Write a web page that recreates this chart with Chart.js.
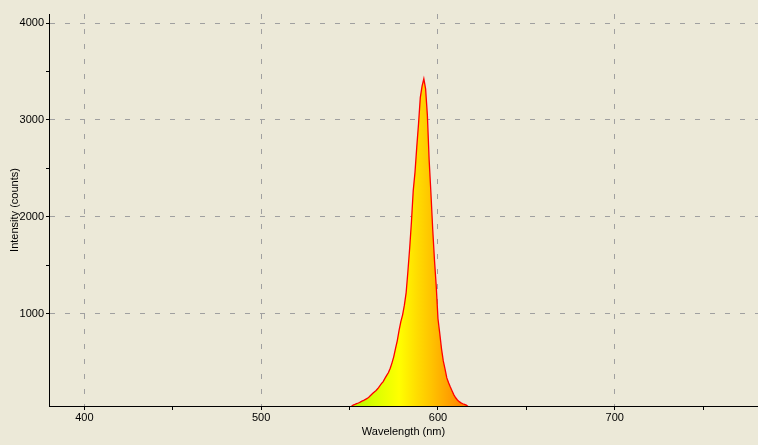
<!DOCTYPE html>
<html>
<head>
<meta charset="utf-8">
<script src="https://cdn.jsdelivr.net/npm/chart.js@4/dist/chart.umd.min.js"></script>
<style>
  html, body { margin: 0; padding: 0; background: #ECE9D8; }
  #wrap { width: 758px; height: 445px; position: relative; }
</style>
</head>
<body>
<div id="wrap"><canvas id="specChart"></canvas></div>
<script>
// spectrum samples (nm / counts)
const wavelengths = [550, 551, 552, 553, 554, 555, 556, 557, 558, 559,
    560, 561, 562, 563, 564, 565, 566, 567, 568, 569,
    570, 571, 572, 573, 574, 575, 576, 577, 578, 579,
    580, 581, 582, 583, 584, 585, 586, 587, 588, 589,
    590, 591, 592, 593, 594, 595, 596, 597, 598, 599,
    600, 601, 602, 603, 604, 605, 606, 607, 608, 609,
    610, 611, 612, 613, 614, 615, 616, 617, 618];
const intensity = [0, 45, 59, 66, 74, 81, 90, 100, 108, 118,
    128, 142, 160, 178, 195, 210, 230, 255, 280, 302,
    335, 365, 395, 440, 495, 560, 645, 725, 830, 920,
    990, 1090, 1220, 1440, 1680, 1950, 2270, 2460, 2720, 2960,
    3230, 3350, 3425, 3320, 3050, 2590, 2250, 1880, 1560, 1290,
    950, 800, 640, 515, 430, 340, 290, 245, 205, 165,
    135, 112, 95, 82, 73, 66, 59, 45, 0];

// axis ticks (labelled ones get a grid line)
const xTicks = [400, 450, 500, 550, 600, 650, 700, 750];
const xLabelled = [400, 500, 600, 700];
const yTicks = [1000, 1500, 2000, 2500, 3000, 3500, 4000];
const yLabelled = [1000, 2000, 3000, 4000];

// fill colours along the wavelength axis
const stopNm = [550, 565, 578, 588, 596, 604, 618];
const stopColors = ["#b4f400", "#dcff00", "#ffff00", "#ffdd00", "#ffc400", "#ffa800", "#ff7800"];

const points = wavelengths.map(function (w, i) { return { x: w, y: intensity[i] }; });

const tickFont = { family: "'Liberation Sans', Arial, sans-serif", size: 11 };

new Chart(document.getElementById("specChart"), {
    type: "line",
    data: {
        datasets: [{
            data: points,
            borderColor: "#ff0000",
            borderWidth: 1.3,
            pointRadius: 0,
            tension: 0,
            fill: "start",
            backgroundColor: function (context) {
                const chart = context.chart;
                if (!chart.chartArea) return "#ffd000";
                const xs = chart.scales.x;
                const x0 = xs.getPixelForValue(stopNm[0]);
                const x1 = xs.getPixelForValue(stopNm[stopNm.length - 1]);
                const g = chart.ctx.createLinearGradient(x0, 0, x1, 0);
                stopNm.forEach(function (nm, i) {
                    g.addColorStop((nm - stopNm[0]) / (stopNm[stopNm.length - 1] - stopNm[0]), stopColors[i]);
                });
                return g;
            }
        }]
    },
    options: {
        responsive: true,
        maintainAspectRatio: false,
        animation: false,
        layout: { padding: { top: 14, right: 0, left: 0, bottom: 0 } },
        plugins: {
            legend: { display: false },
            tooltip: { enabled: false }
        },
        scales: {
            x: {
                type: "linear",
                min: 380,
                max: 781,
                z: 1,
                afterBuildTicks: function (scale) {
                    scale.ticks = xTicks.map(function (v) { return { value: v }; });
                },
                afterFit: function (scale) { scale.height = 39; },
                ticks: {
                    color: "#000",
                    font: tickFont,
                    padding: 1,
                    maxRotation: 0,
                    autoSkip: false,
                    callback: function (v) { return xLabelled.includes(v) ? String(v) : ""; }
                },
                grid: {
                    color: function (ctx) {
                        return ctx.tick && xLabelled.includes(ctx.tick.value) ? "#a0a0a0" : "rgba(0,0,0,0)";
                    },
                    lineWidth: 1,
                    tickColor: "#000",
                    tickLength: 4,
                    tickBorderDash: []
                },
                border: { display: true, color: "#000", width: 1, dash: [5, 10] },
                title: {
                    display: true,
                    text: "Wavelength (nm)",
                    color: "#000",
                    font: tickFont,
                    padding: { top: 0, bottom: 6 }
                }
            },
            y: {
                type: "linear",
                min: 50,
                max: 4093,
                z: 1,
                afterBuildTicks: function (scale) {
                    scale.ticks = yTicks.map(function (v) { return { value: v }; });
                },
                afterFit: function (scale) { scale.width = 49; },
                ticks: {
                    color: "#000",
                    font: tickFont,
                    padding: 2,
                    autoSkip: false,
                    callback: function (v) { return yLabelled.includes(v) ? String(v) : ""; }
                },
                grid: {
                    color: function (ctx) {
                        return ctx.tick && yLabelled.includes(ctx.tick.value) ? "#a0a0a0" : "rgba(0,0,0,0)";
                    },
                    lineWidth: 1,
                    tickColor: "#000",
                    tickLength: 3,
                    tickBorderDash: []
                },
                border: { display: true, color: "#000", width: 1, dash: [5, 10] },
                title: {
                    display: true,
                    text: "Intensity (counts)",
                    color: "#000",
                    font: tickFont,
                    padding: { top: 8, bottom: 0 }
                }
            }
        }
    }
});
</script>
</body>
</html>
